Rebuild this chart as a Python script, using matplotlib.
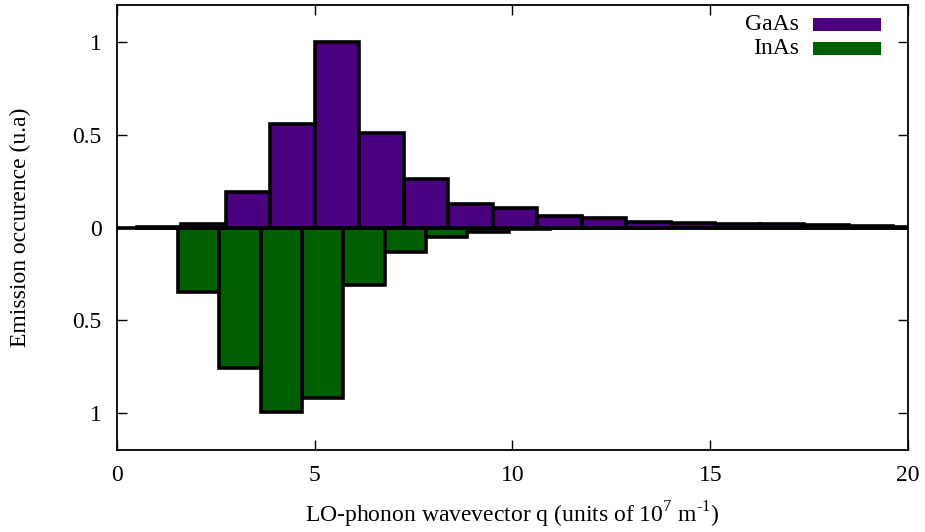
import matplotlib
matplotlib.use("Agg")
import matplotlib.pyplot as plt
from matplotlib.patches import Rectangle
import numpy as np

plt.rcParams['font.family'] = ['Liberation Serif', 'DejaVu Serif']
plt.rcParams['mathtext.fontset'] = 'custom'
plt.rcParams['mathtext.rm'] = 'Liberation Serif'

# GaAs histogram: left bin edge start, bin width, heights
gaas_start = 0.5
gaas_width = 1.125
gaas_vals = [0.005, 0.02, 0.19, 0.56, 1.0, 0.51, 0.26, 0.125, 0.105, 0.06,
             0.05, 0.03, 0.022, 0.018, 0.018, 0.013, 0.008, 0.005, 0.003]

# InAs histogram (plotted downward)
inas_start = 1.54
inas_width = 1.045
inas_vals = [0.35, 0.755, 0.995, 0.92, 0.31, 0.13, 0.05, 0.025, 0.01, 0.005, 0.003]

gaas_color = '#4b0080'
inas_color = '#005f00'

xticks = [0, 5, 10, 15, 20]
yticks = [-1, -0.5, 0, 0.5, 1]
ytick_labels = ['1', '0.5', '0', '0.5', '1']

fig = plt.figure(figsize=(9.25, 5.32), dpi=100)
ax = fig.add_axes([0.1265, 0.1541, 0.9816 - 0.1265, 0.9906 - 0.1541])

gx = gaas_start + gaas_width * np.arange(len(gaas_vals))
ix = inas_start + inas_width * np.arange(len(inas_vals))

ax.bar(ix, -np.array(inas_vals), width=inas_width, align='edge',
       color=inas_color, edgecolor='black', linewidth=2.6, zorder=2)
ax.bar(gx, gaas_vals, width=gaas_width, align='edge',
       color=gaas_color, edgecolor='black', linewidth=2.6, zorder=3)
ax.axhline(0, color='black', linewidth=2.6, zorder=4)

ax.set_xlim(0, 20)
ax.set_ylim(-1.2, 1.2)
ax.set_xticks(xticks)
ax.set_yticks(yticks)
ax.set_yticklabels(ytick_labels)
ax.tick_params(direction='in', length=7, width=1, top=True, right=True,
               labelsize=17)
ax.tick_params(axis='y', pad=11)
ax.tick_params(axis='x', pad=11)
for s in ax.spines.values():
    s.set_linewidth(1.3)

ax.set_xlabel(r'LO-phonon wavevector q (units of 10$^{7}$ m$^{\text{-}1}$)', fontsize=17, labelpad=10)
ax.set_ylabel('Emission occurence (u.a)', fontsize=17, labelpad=30)

# legend
for i, (lab, col) in enumerate([('GaAs', gaas_color), ('InAs', inas_color)]):
    yc = 0.956 - i * 0.054
    ax.text(0.862, yc, lab, transform=ax.transAxes, ha='right', va='center', fontsize=17)
    ax.add_patch(Rectangle((0.880, yc - 0.0145), 0.086, 0.029, transform=ax.transAxes,
                           facecolor=col, edgecolor='none', zorder=5))

fig.savefig('out.png', dpi=100)
